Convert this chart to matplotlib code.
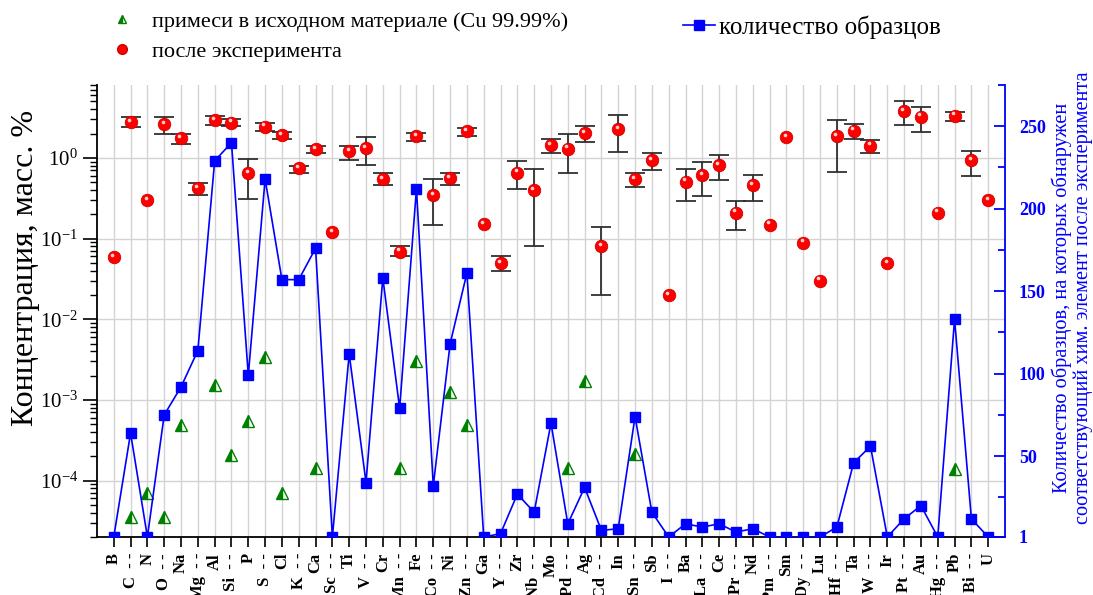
import numpy as np
import matplotlib
matplotlib.use("Agg")
import matplotlib.pyplot as plt
from matplotlib.lines import Line2D
from matplotlib.ticker import LogLocator, LogFormatterSciNotation, FixedLocator, NullFormatter
from matplotlib.transforms import offset_copy

plt.rcParams['font.family'] = ['Liberation Serif', 'DejaVu Serif']
plt.rcParams['mathtext.fontset'] = 'custom'
plt.rcParams['mathtext.rm'] = 'Liberation Serif'
plt.rcParams['mathtext.it'] = 'Liberation Serif:italic'
plt.rcParams['mathtext.bf'] = 'Liberation Serif:bold'

# ── данные ──────────────────────────────────────────────────────────────────
elements = ["B", "C", "N", "O", "Na", "Mg", "Al", "Si", "P", "S", "Cl", "K", "Ca",
            "Sc", "Ti", "V", "Cr", "Mn", "Fe", "Co", "Ni", "Zn", "Ga", "Y", "Zr",
            "Nb", "Mo", "Pd", "Ag", "Cd", "In", "Sn", "Sb", "I", "Ba", "La", "Ce",
            "Pr", "Nd", "Pm", "Sm", "Dy", "Lu", "Hf", "Ta", "W", "Ir", "Pt", "Au",
            "Hg", "Pb", "Bi", "U"]

# после эксперимента, масс. %
after_exp = [0.059, 2.8, 0.30, 2.64, 1.75, 0.42, 2.96, 2.74, 0.646, 2.44, 1.93, 0.745, 1.29,
             0.12, 1.2, 1.32, 0.55, 0.069, 1.84, 0.348, 0.56, 2.16, 0.15, 0.05, 0.658,
             0.40, 1.45, 1.30, 2.02, 0.081, 2.29, 0.55, 0.94, 0.020, 0.508, 0.616, 0.81,
             0.21, 0.46, 0.149, 1.80, 0.089, 0.030, 1.84, 2.18, 1.42, 0.05, 3.82, 3.25,
             0.21, 3.34, 0.93, 0.30]
nan = np.nan
after_hi = [nan, 3.2, nan, 3.2, 2.0, 0.485, 3.3, 3.0, 0.96, 2.74, 2.12, 0.80, 1.41,
            nan, 1.41, 1.8, 0.646, 0.08, 2.02, 0.55, 0.646, 2.37, nan, 0.060, 0.91,
            0.72, 1.71, 1.97, 2.51, 0.14, 3.44, 0.646, 1.16, nan, 0.72, 0.89, 1.09,
            0.288, 0.62, nan, nan, nan, nan, 2.96, 2.6, 1.66, nan, 5.13, 4.32,
            nan, 3.75, 1.23, nan]
after_lo = [nan, 2.4, nan, 2.0, 1.49, 0.348, 2.56, 2.49, 0.31, 2.18, 1.71, 0.646, 1.16,
            nan, 0.94, 0.82, 0.46, 0.060, 1.61, 0.149, 0.467, 1.89, nan, 0.040, 0.41,
            0.08, 1.16, 0.646, 1.55, 0.0197, 1.19, 0.44, 0.71, nan, 0.288, 0.338, 0.53,
            0.129, 0.288, nan, nan, nan, nan, 0.665, 1.73, 1.16, nan, 2.54, 2.12,
            nan, 2.87, 0.60, nan]

# примеси в исходном материале
initial_el = ["C", "N", "O", "Na", "Al", "Si", "P", "S", "Cl", "Ca",
              "Mn", "Fe", "Ni", "Zn", "Pd", "Ag", "Sn", "Pb"]
initial_val = [3.5e-5, 7.0e-5, 3.5e-5, 4.9e-4, 1.54e-3, 2.09e-4, 5.55e-4, 3.39e-3, 7.0e-5, 1.43e-4,
               1.43e-4, 3.05e-3, 1.27e-3, 4.9e-4, 1.43e-4, 1.72e-3, 2.13e-4, 1.39e-4]

# количество образцов
counts = [1, 64, 1, 75, 92, 114, 229, 240, 99, 218, 157, 157, 176,
          1, 112, 34, 158, 79, 212, 32, 118, 161, 1, 3, 27,
          16, 70, 9, 31, 5, 6, 74, 16, 1, 9, 7, 9,
          4, 6, 1, 1, 1, 1, 7, 46, 56, 1, 12, 20,
          1, 133, 12, 1]

# ── рисунок ─────────────────────────────────────────────────────────────────
x = np.arange(len(elements))
y = np.array(after_exp)
hi = np.array(after_hi)
lo = np.array(after_lo)
has_err = ~np.isnan(hi)

fig = plt.figure(figsize=(10.93, 5.95), dpi=100)
ax = fig.add_axes([0.0887, 0.0975, 0.8308, 0.7597])
ax2 = ax.twinx()

ax.set_yscale('log')
ax.set_ylim(2e-5, 8)
ax.set_xlim(-1, len(elements))

ax.grid(True, which='major', axis='both', color='#d3d3d3', lw=1.0, zorder=0)
ax.set_axisbelow(True)

ax.errorbar(x[has_err], y[has_err],
            yerr=[y[has_err] - lo[has_err], hi[has_err] - y[has_err]],
            fmt='none', ecolor='#303030', elinewidth=1.3, capsize=7, capthick=1.3, zorder=3)

xi = [elements.index(e) for e in initial_el]
ax.plot(xi, initial_val, ls='none', marker='^', ms=8, fillstyle='left',
        color='#008000', markerfacecoloralt='white', mec='#008000', mew=1.0, zorder=4)

ax.plot(x, y, ls='none', marker='o', ms=9, mfc='#ff0000', mec='#d00000', mew=0.6, zorder=5)
hl = offset_copy(ax.transData, fig=fig, x=-1.2, y=1.6, units='points')
ax.plot(x, y, ls='none', marker='o', ms=2.6, mfc='#ffd0d0', mec='none', transform=hl, zorder=6)

ax2.plot(x, counts, color='#0000ff', lw=1.2, marker='s', ms=7, mfc='#0000ff', mec='#0000ff', zorder=3)
ax2.set_ylim(1, 275)

# оси и подписи
labels = [e if i % 2 == 0 else e + "  - -" for i, e in enumerate(elements)]
ax.set_xticks(x)
ax.set_xticklabels(labels, rotation=90, fontsize=12, fontweight='bold', va='top')
ax.tick_params(axis='x', direction='out', length=7, width=1.2, pad=4.5)

ax.yaxis.set_major_locator(LogLocator(base=10, numticks=12))
ax.yaxis.set_major_formatter(LogFormatterSciNotation())
ax.yaxis.set_minor_locator(LogLocator(base=10, subs=np.arange(2, 10), numticks=12))
ax.yaxis.set_minor_formatter(NullFormatter())
ax.tick_params(axis='y', which='major', direction='out', length=10, width=1.2, labelsize=15)
ax.tick_params(axis='y', which='minor', direction='out', length=5, width=1.0)

for s in ['top', 'right']:
    ax.spines[s].set_visible(False)
    ax2.spines[s].set_visible(s == 'right')
ax2.spines['left'].set_visible(False)
ax2.spines['bottom'].set_visible(False)
ax.spines['left'].set_linewidth(1.3)
ax.spines['bottom'].set_linewidth(1.3)
ax2.spines['right'].set_color('#0000ff')
ax2.spines['right'].set_linewidth(1.3)

ax2.yaxis.set_major_locator(FixedLocator([1, 50, 100, 150, 200, 250]))
ax2.yaxis.set_minor_locator(FixedLocator([25, 75, 125, 175, 225, 275]))
ax2.tick_params(axis='y', which='major', direction='in', length=8, width=1.3,
                colors='#0000ff', labelsize=13, pad=10)
ax2.tick_params(axis='y', which='minor', direction='in', length=5, width=1.3, colors='#0000ff')
for t in ax2.get_yticklabels():
    t.set_fontweight('bold')

fig.text(26 / 1093, 1 - 268 / 595, "Концентрация, масс. %", rotation=90,
         ha='center', va='center', fontsize=23)
fig.text(1072 / 1093, 1 - 298 / 595,
         "Количество образцов, на которых обнаружен\nсоответствующий хим. элемент после эксперимента",
         rotation=90, ha='center', va='center', fontsize=14.7, color='#0000ff',
         multialignment='center', linespacing=1.1)

# легенды
h1 = Line2D([], [], ls='none', marker='^', ms=6, fillstyle='left', color='#008000',
            markerfacecoloralt='white', mec='#008000')
h2 = Line2D([], [], ls='none', marker='o', ms=7, mfc='#ff0000', mec='#d00000')
fig.legend([h1, h2], ["примеси в исходном материале (Cu 99.99%)", "после эксперимента"],
           loc='upper left', bbox_to_anchor=(0.0814, 1.015), frameon=False, fontsize=16,
           handlelength=1.2, handletextpad=0.73, labelspacing=0.43)
h3 = Line2D([], [], color='#0000ff', lw=1.2, marker='s', ms=7)
fig.legend([h3], ["количество образцов"], loc='upper left', bbox_to_anchor=(0.6045, 1.012),
           frameon=False, fontsize=18, handlelength=1.28, handletextpad=0.15)

fig.savefig("out.png", dpi=100)
